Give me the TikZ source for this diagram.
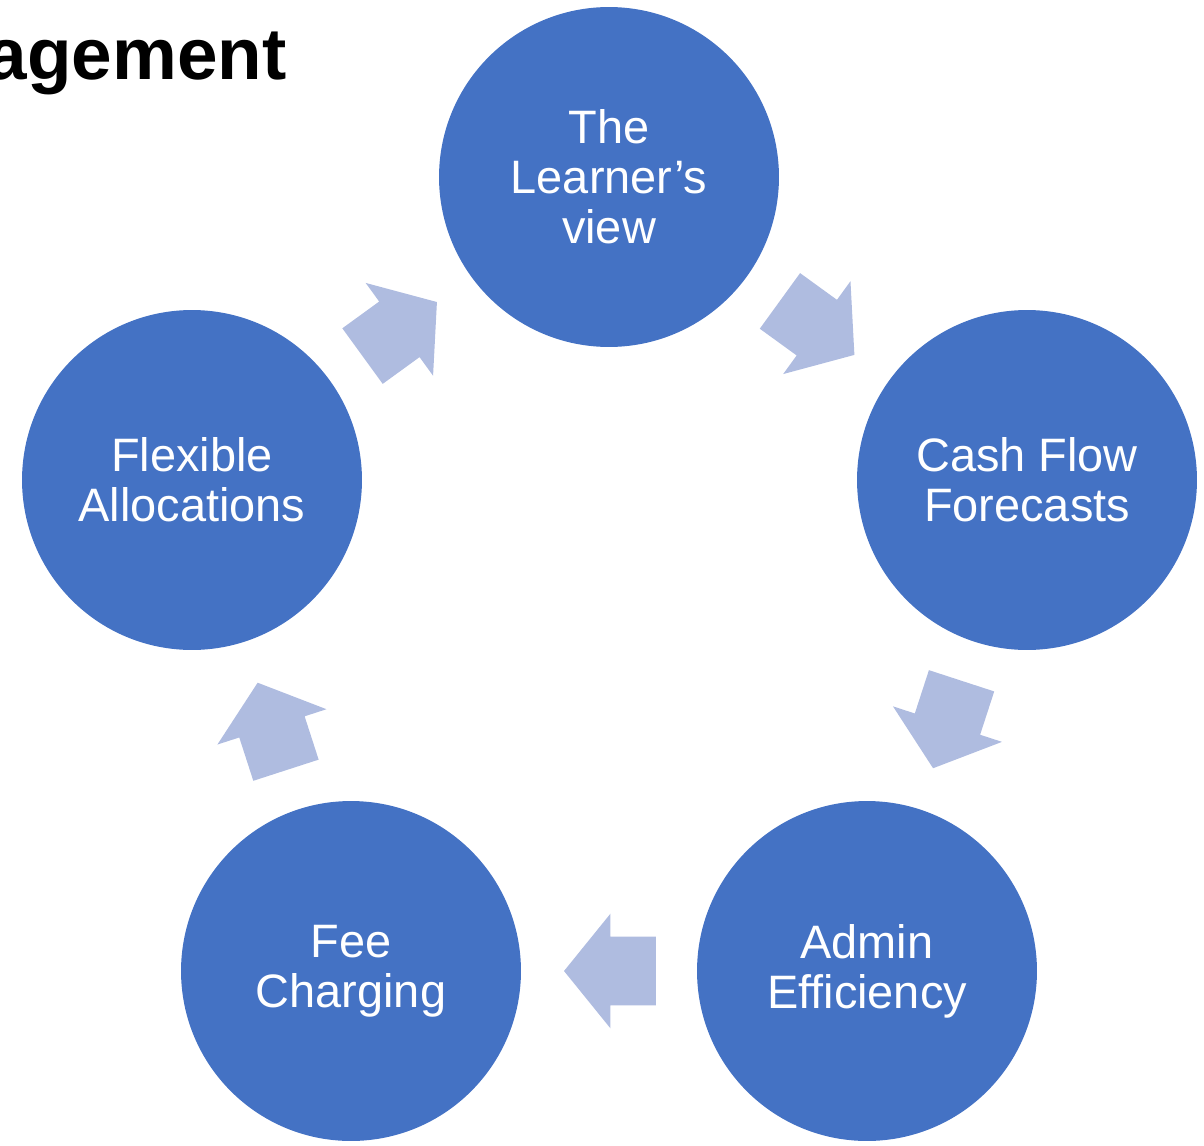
\documentclass[tikz,border=0pt]{standalone}
\usepackage{fontspec}
\setmainfont{Liberation Sans}
\usetikzlibrary{shapes.arrows}
\definecolor{circazul}{HTML}{4472C4}
\definecolor{flechazul}{RGB}{175,188,224}

\begin{document}
\begin{tikzpicture}[x=0.02cm, y=-0.02cm,
    etapa/.style={circle, fill=circazul, minimum size=6.8cm, inner sep=0pt,
        text=white, align=center, font=\fontsize{26.7}{28.45}\selectfont},
    flecha/.style={single arrow, fill=flechazul, draw=none,
        inner xsep=0pt, inner ysep=0.68cm, minimum height=1.84cm,
        single arrow head extend=0.46cm, single arrow tip angle=102,
        pos=0.415, sloped, allow upside down}]
    % Marco de la lámina
    \clip (0,0) rectangle (1204,1146);

    % Título (cortado por el borde)
    \node[anchor=base east, inner sep=0pt, font=\fontsize{41.5}{48}\selectfont\bfseries] (titulo) at (287,79) {agement};

    % Etapas del ciclo
    \node[etapa] (learner)  at (609,177) {The\\Learner’s\\view};
    \node[etapa] (cashflow) at (1027,480) {Cash Flow\\Forecasts};
    \node[etapa] (admin)    at (867,971) {Admin\\Efficiency};
    \node[etapa] (fee)      at (351,971) {Fee\\Charging};
    \node[etapa] (flexible) at (192,480) {Flexible\\Allocations};

    % Flechas entre etapas
    \path (learner)  -- node[flecha] (f1) {} (cashflow);
    \path (cashflow) -- node[flecha] (f2) {} (admin);
    \path (admin)    -- node[flecha] (f3) {} (fee);
    \path (fee)      -- node[flecha] (f4) {} (flexible);
    \path (flexible) -- node[flecha] (f5) {} (learner);
\end{tikzpicture}
\end{document}
